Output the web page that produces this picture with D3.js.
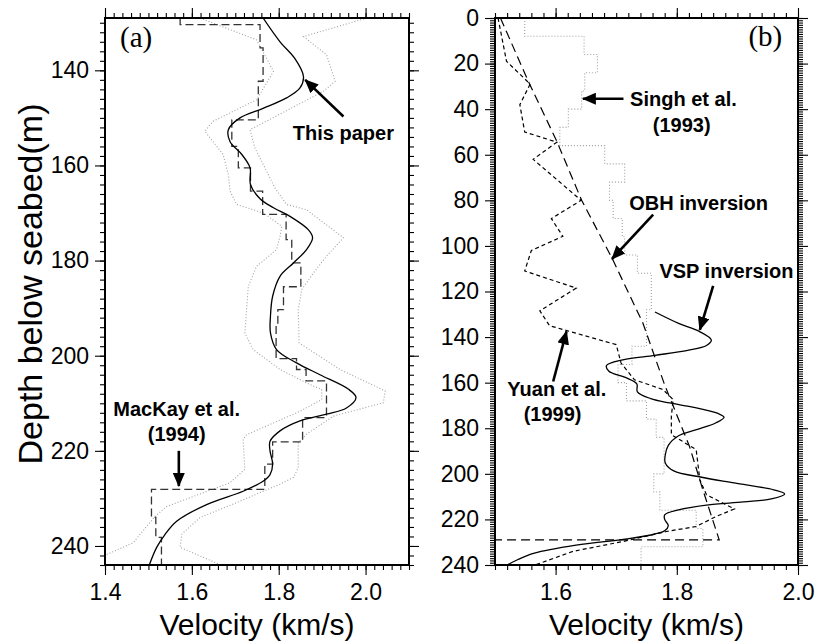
<!DOCTYPE html>
<html>
<head>
<meta charset="utf-8">
<script src="https://cdn.jsdelivr.net/npm/d3@7"></script>
<style>
  body { margin: 0; background: #fff; }
  svg { display: block; font-family: "Liberation Sans", Arial, Helvetica, sans-serif; }
</style>
</head>
<body>
<svg id="chart"></svg>
<script>
// VSP inversion (this paper): depth (m) and velocity (km/s)
const vspDepth = [129, 134, 137.5, 141.3, 143.7, 145.8, 148, 150, 152.5, 155,
  157.7, 160.5, 164, 167, 168.9, 170.7, 173.5, 175.2, 177.7, 180.5,
  183.3, 187.5, 191.7, 195.2, 198.7, 201.5, 204, 207, 208.8, 211,
  212.3, 213.7, 215.8, 218, 220, 222.8, 225, 226.4, 228.5, 231.3,
  234.8, 237.6, 240.3, 244];
const vspVel = [1.764, 1.803, 1.837, 1.857, 1.849, 1.818, 1.764, 1.711, 1.684, 1.688,
  1.715, 1.734, 1.735, 1.757, 1.788, 1.826, 1.868, 1.878, 1.864, 1.834,
  1.803, 1.786, 1.781, 1.781, 1.795, 1.841, 1.895, 1.960, 1.978, 1.956,
  1.910, 1.849, 1.803, 1.780, 1.780, 1.786, 1.780, 1.764, 1.718, 1.634,
  1.565, 1.538, 1.519, 1.502];

// error bounds of the VSP inversion
const lowDepth = [129, 133.6, 140.2, 146.2, 150.7, 152.8, 157.7, 161.9, 165.4, 168.2,
  170, 172.8, 174.9, 177.7, 181.2, 185.4, 195.2, 198.7, 202.9, 206,
  207.1, 209.2, 211.7, 216.6, 217.6, 223.9, 226.7, 231.7, 233.8, 239.3, 241.8];
const lowVel = [1.619, 1.749, 1.788, 1.749, 1.649, 1.630, 1.672, 1.684, 1.688, 1.703,
  1.765, 1.807, 1.803, 1.795, 1.749, 1.730, 1.722, 1.741, 1.803, 1.870,
  1.899, 1.899, 1.849, 1.726, 1.718, 1.722, 1.688, 1.542, 1.515, 1.465, 1.404];
const highDepth = [129, 132.9, 136.7, 142.3, 144.4, 152.5, 156.3, 161.9, 164.7, 168.2,
  169.3, 175.2, 179.1, 182.6, 186.1, 190.3, 197.3, 202.9, 207.4, 209.9,
  212.7, 216.5, 218.3, 223.5, 225.6, 227, 231.2, 234, 237.5, 240.3, 244.5];
const highVel = [2.003, 1.857, 1.910, 1.930, 1.903, 1.734, 1.745, 1.776, 1.791, 1.818,
  1.864, 1.949, 1.910, 1.880, 1.853, 1.845, 1.847, 1.941, 2.045, 2.041,
  1.926, 1.864, 1.845, 1.845, 1.834, 1.803, 1.695, 1.619, 1.577, 1.573, 1.680];

// MacKay et al. (1994) layered model: layer top depth and velocity
const mackayTop = [129, 130.4, 135.3, 142.3, 150.4, 156, 160.5, 165.4, 170.3, 175.6,
  180.5, 185.5, 190.3, 193.4, 200.6, 202.9, 205.3, 213, 218.1, 222.8,
  228.1, 234, 238.2];
const mackayVel = [1.573, 1.757, 1.764, 1.753, 1.692, 1.707, 1.735, 1.763, 1.817, 1.830,
  1.851, 1.811, 1.798, 1.794, 1.841, 1.863, 1.910, 1.855, 1.786, 1.768,
  1.507, 1.517, 1.530];
const mackayBase = 244;

// Singh et al. (1993) layered model
const singhTop = [0, 8, 16, 24, 32, 40, 48, 56, 64, 72, 80, 88, 96, 104, 112,
  120, 128, 136, 144, 152, 160, 168, 176, 184, 192, 200, 208, 216, 224, 232];
const singhVel = [1.549, 1.647, 1.669, 1.648, 1.643, 1.621, 1.607, 1.681, 1.714, 1.689,
  1.695, 1.710, 1.714, 1.735, 1.758, 1.758, 1.750, 1.750, 1.726, 1.703,
  1.717, 1.750, 1.766, 1.779, 1.779, 1.762, 1.772, 1.832, 1.843, 1.741];
const singhBase = 240;

// Yuan et al. (1999)
const yuanDepth = [0, 19, 29, 38, 50, 54.5, 62, 80, 88, 95.8,
  102, 111, 118.5, 128.5, 135, 143.3, 151.4, 158.7, 163, 167.4,
  174.8, 182.8, 189.4, 202.6, 209.2, 215.4, 218.7, 223.1, 225.3, 229.7,
  234, 240];
const yuanVel = [1.505, 1.519, 1.558, 1.541, 1.549, 1.602, 1.563, 1.642, 1.593, 1.612,
  1.560, 1.549, 1.634, 1.574, 1.590, 1.700, 1.708, 1.730, 1.777, 1.794,
  1.791, 1.791, 1.832, 1.838, 1.849, 1.895, 1.865, 1.832, 1.783, 1.711,
  1.629, 1.566];

// OBH inversion
const obhDepth = [0, 27.8, 54.1, 80, 105.3, 133.8, 161, 188, 207, 229, 229];
const obhVel = [1.509, 1.555, 1.602, 1.643, 1.693, 1.744, 1.780, 1.821, 1.843, 1.870, 1.5];

// tick labels
const depthTicksA = [140, 160, 180, 200, 220, 240];
const velTicksA = [1.4, 1.6, 1.8, 2.0];
const depthTicksB = [0, 20, 40, 60, 80, 100, 120, 140, 160, 180, 200, 220, 240];
const velTicksB = [1.6, 1.8, 2.0];

const zip = (ds, vs) => ds.map((d, i) => ({d: d, v: vs[i]}));
const layers = (tops, vs, base) => zip(tops, vs).concat([{d: base, v: vs[vs.length - 1]}]);

const svg = d3.select('#chart')
  .attr('width', 819)
  .attr('height', 644);

svg.append('rect').attr('width', 819).attr('height', 644).attr('fill', '#fff');

const defs = svg.append('defs');
defs.append('marker')
  .attr('id', 'arrowhead')
  .attr('markerUnits', 'userSpaceOnUse')
  .attr('viewBox', '0 0 14 12')
  .attr('refX', 13).attr('refY', 6)
  .attr('markerWidth', 14).attr('markerHeight', 12)
  .attr('orient', 'auto')
  .append('path')
  .attr('d', 'M0,0 L14,6 L0,12 Z')
  .attr('fill', '#000');

class DepthPanel {
  constructor(_config) {
    this.config = {
      id: _config.id,
      left: _config.left,
      top: _config.top,
      width: _config.width,
      height: _config.height,
      xDomain: _config.xDomain,
      yDomain: _config.yDomain,
      xTicks: _config.xTicks,
      yTicks: _config.yTicks,
      xMinor: _config.xMinor,
      yMinor: _config.yMinor
    };
    this.initVis();
  }

  initVis() {
    let vis = this;
    let c = vis.config;

    vis.chart = svg.append('g')
      .attr('transform', `translate(${c.left},${c.top})`);

    vis.xScale = d3.scaleLinear().domain(c.xDomain).range([0, c.width]);
    vis.yScale = d3.scaleLinear().domain(c.yDomain).range([0, c.height]);

    defs.append('clipPath').attr('id', 'clip-' + c.id)
      .append('rect').attr('width', c.width).attr('height', c.height);

    vis.plot = vis.chart.append('g').attr('clip-path', `url(#clip-${c.id})`);

    vis.line = d3.line()
      .x(d => vis.xScale(d.v))
      .y(d => vis.yScale(d.d));

    vis.drawAxes();
  }

  drawAxes() {
    let vis = this;
    let c = vis.config;

    let minorX = d3.range(Math.round(c.xDomain[0] / c.xMinor), Math.round(c.xDomain[1] / c.xMinor) + 1)
      .map(k => +(k * c.xMinor).toFixed(3));
    let minorY = d3.range(Math.ceil(c.yDomain[0] / c.yMinor), Math.floor(c.yDomain[1] / c.yMinor) + 1)
      .map(k => k * c.yMinor);

    const axisGroup = (axis, transform) => {
      let g = vis.chart.append('g').attr('transform', transform).call(axis);
      g.select('.domain').remove();
      g.selectAll('.tick line').attr('stroke', '#000').attr('stroke-width', 1.1);
      g.selectAll('.tick text').attr('font-size', 23).attr('fill', '#000')
        .attr('font-family', '"Liberation Sans", Arial, sans-serif');
      return g;
    };

    // minor ticks on all four sides
    axisGroup(d3.axisLeft(vis.yScale).tickValues(minorY).tickSize(5).tickFormat(''), 'translate(0,0)');
    axisGroup(d3.axisRight(vis.yScale).tickValues(minorY).tickSize(5).tickFormat(''), `translate(${c.width},0)`);
    axisGroup(d3.axisTop(vis.xScale).tickValues(minorX).tickSize(5).tickFormat(''), 'translate(0,0)');
    axisGroup(d3.axisBottom(vis.xScale).tickValues(minorX).tickSize(5).tickFormat(''), `translate(0,${c.height})`);

    // major ticks
    axisGroup(d3.axisLeft(vis.yScale).tickValues(c.yTicks).tickSize(10).tickPadding(6), 'translate(0,0)');
    axisGroup(d3.axisRight(vis.yScale).tickValues(c.yTicks).tickSize(10).tickFormat(''), `translate(${c.width},0)`);
    axisGroup(d3.axisTop(vis.xScale).tickValues(c.xTicks).tickSize(10).tickFormat(''), 'translate(0,0)');
    axisGroup(d3.axisBottom(vis.xScale).tickValues(c.xTicks).tickSize(10).tickPadding(9)
      .tickFormat(d3.format('.1f')), `translate(0,${c.height})`);

    // frame
    vis.chart.append('rect')
      .attr('width', c.width)
      .attr('height', c.height)
      .attr('fill', 'none')
      .attr('stroke', '#000')
      .attr('stroke-width', 2);

    vis.chart.append('text')
      .attr('x', c.width / 2)
      .attr('y', c.height + 70)
      .attr('text-anchor', 'middle')
      .attr('font-size', 30)
      .text('Velocity (km/s)');
  }

  addProfile(points, style) {
    let vis = this;
    vis.plot.append('path')
      .datum(points)
      .attr('fill', 'none')
      .attr('stroke', style.stroke)
      .attr('stroke-width', style.width)
      .attr('stroke-dasharray', style.dash || null)
      .attr('d', vis.line.curve(style.curve || d3.curveLinear));
  }

  note(lines, v, d, anchor) {
    let vis = this;
    lines.forEach((t, i) => {
      vis.chart.append('text')
        .attr('x', vis.xScale(v[i]))
        .attr('y', vis.yScale(d[i]))
        .attr('text-anchor', anchor || 'middle')
        .attr('font-size', 20)
        .attr('font-weight', 'bold')
        .text(t);
    });
  }

  arrow(v0, d0, v1, d1) {
    let vis = this;
    vis.chart.append('line')
      .attr('x1', vis.xScale(v0)).attr('y1', vis.yScale(d0))
      .attr('x2', vis.xScale(v1)).attr('y2', vis.yScale(d1))
      .attr('stroke', '#000')
      .attr('stroke-width', 2.6)
      .attr('marker-end', 'url(#arrowhead)');
  }

  panelLabel(text, v, d, anchor) {
    let vis = this;
    vis.chart.append('text')
      .attr('x', vis.xScale(v))
      .attr('y', vis.yScale(d))
      .attr('text-anchor', anchor)
      .attr('font-family', '"Liberation Serif", "Times New Roman", serif')
      .attr('font-size', 29)
      .text(text);
  }
}

const dotted = {stroke: '#a0a0a0', width: 1.1, dash: '1,2'};

// (a) close-up of the VSP interval
const panelA = new DepthPanel({
  id: 'a', left: 105, top: 18, width: 304, height: 547,
  xDomain: [1.4, 2.1], yDomain: [129, 244],
  xTicks: velTicksA, yTicks: depthTicksA, xMinor: 0.02, yMinor: 2
});
panelA.addProfile(zip(lowDepth, lowVel), dotted);
panelA.addProfile(zip(highDepth, highVel), dotted);
panelA.addProfile(layers(mackayTop, mackayVel, mackayBase),
  {stroke: '#333', width: 1.3, dash: '8,4', curve: d3.curveStepBefore});
panelA.addProfile(zip(vspDepth, vspVel), {stroke: '#000', width: 1.3, curve: d3.curveCatmullRom});
panelA.panelLabel('(a)', 1.4345, 135.0, 'start');
panelA.note(['This paper'], [1.949], [154.6]);
panelA.arrow(1.949, 149.7, 1.861, 142.0);
panelA.note(['MacKay et al.', '(1994)'], [1.565, 1.565], [212.7, 218.0]);
panelA.arrow(1.570, 220.0, 1.570, 227.4);

// (b) whole sediment column
const panelB = new DepthPanel({
  id: 'b', left: 495, top: 18, width: 303, height: 547,
  xDomain: [1.5, 2.0], yDomain: [0, 240],
  xTicks: velTicksB, yTicks: depthTicksB, xMinor: 0.02, yMinor: 1
});
panelB.addProfile(layers(singhTop, singhVel, singhBase), Object.assign({curve: d3.curveStepBefore}, dotted));
panelB.addProfile(zip(obhDepth, obhVel), {stroke: '#000', width: 1.2, dash: '9,5'});
panelB.addProfile(zip(yuanDepth, yuanVel), {stroke: '#000', width: 1.2, dash: '4,3'});
panelB.addProfile(zip(vspDepth, vspVel), {stroke: '#000', width: 1.3, curve: d3.curveCatmullRom});
panelB.panelLabel('(b)', 1.974, 12.2, 'end');
panelB.note(['Singh et al.', '(1993)'], [1.811, 1.808], [38.8, 49.8]);
panelB.arrow(1.712, 35.4, 1.645, 35.4);
panelB.note(['OBH inversion'], [1.836], [84.1]);
panelB.arrow(1.761, 86.3, 1.693, 105.7);
panelB.note(['VSP inversion'], [1.882], [114.1]);
panelB.arrow(1.860, 117.5, 1.838, 136.8);
panelB.note(['Yuan et al.', '(1999)'], [1.602, 1.595], [166.0, 177.0]);
panelB.arrow(1.596, 159.5, 1.618, 137.5);

svg.append('text')
  .attr('transform', 'translate(42,284) rotate(-90)')
  .attr('text-anchor', 'middle')
  .attr('font-size', 34)
  .text('Depth below seabed(m)');
</script>
</body>
</html>
